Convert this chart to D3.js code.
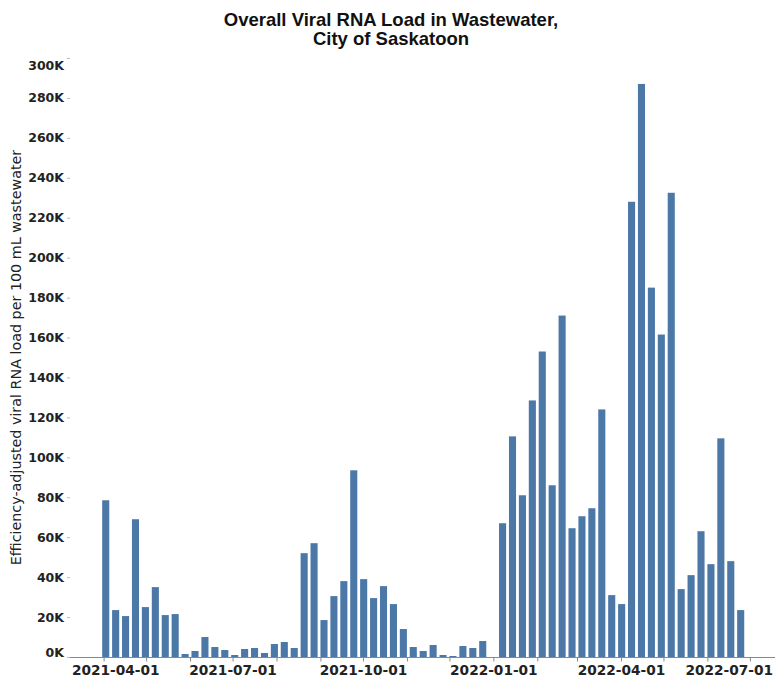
<!DOCTYPE html>
<html><head><meta charset="utf-8">
<script src="https://cdn.jsdelivr.net/npm/d3@7"></script>
<style>body{margin:0;background:#fff} svg{display:block}</style>
</head><body><svg id="c" width="780" height="684"></svg>
<script>
// ---- data ----
const weekStarts = [
 "2021-03-31","2021-04-07","2021-04-14","2021-04-21","2021-04-28","2021-05-05","2021-05-12","2021-05-19",
 "2021-05-26","2021-06-02","2021-06-09","2021-06-16","2021-06-23","2021-06-30","2021-07-07","2021-07-14",
 "2021-07-21","2021-07-28","2021-08-04","2021-08-11","2021-08-18","2021-08-25","2021-09-01","2021-09-08",
 "2021-09-15","2021-09-22","2021-09-29","2021-10-06","2021-10-13","2021-10-20","2021-10-27","2021-11-03",
 "2021-11-10","2021-11-17","2021-11-24","2021-12-01","2021-12-08","2021-12-15","2021-12-22",
 "2022-01-05","2022-01-12","2022-01-19","2022-01-26","2022-02-02","2022-02-09","2022-02-16","2022-02-23",
 "2022-03-02","2022-03-09","2022-03-16","2022-03-23","2022-03-30","2022-04-06","2022-04-13","2022-04-20",
 "2022-04-27","2022-05-04","2022-05-11","2022-05-18","2022-05-25","2022-06-01","2022-06-08","2022-06-15",
 "2022-06-22"
];
const viralLoad = [
 78500,23500,20500,69000,25000,35000,21000,21500,
 1500,3000,10000,5000,3500,1000,4000,4500,
 2000,6500,7500,4500,52000,57000,18500,30500,
 38000,93500,39000,29500,35500,26500,14000,5000,
 3000,6000,1000,500,5500,4500,8000,
 67000,110500,81000,128500,153000,86000,171000,64500,
 70500,74500,124000,31000,26500,228000,287000,185000,
 161500,232500,34000,41000,63000,46500,109500,48000,
 23500
];
const xDomain = ["2021-03-09","2022-07-18"];
const yDomain = [0, 300000];
const yTickValues = [0,20000,40000,60000,80000,100000,120000,140000,160000,180000,200000,220000,240000,260000,280000,300000];
const xLabelDates = ["2021-04-01","2021-07-01","2021-10-01","2022-01-01","2022-04-01","2022-07-01"];
const titleLines = ["Overall Viral RNA Load in Wastewater,", "City of Saskatoon"];
const yTitle = "Efficiency-adjusted viral RNA load per 100 mL wastewater";

// ---- chart ----
const parse = d3.utcParse("%Y-%m-%d");
const fmtDate = d3.utcFormat("%Y-%m-%d");
const data = weekStarts.map((d,i)=>({date: parse(d), value: viralLoad[i]}));
const svg = d3.select("#c");
const X0 = 71, X1 = 774, Y0 = 657, Y1 = 58;
const x = d3.scaleUtc().domain(xDomain.map(parse)).range([X0, X1]);
const y = d3.scaleLinear().domain(yDomain).range([Y0, Y1]);
const labelSet = new Set(xLabelDates);
const labelFont = "'DejaVu Sans', Verdana, sans-serif";

// bars
svg.append("g").selectAll("rect").data(data).join("rect")
  .attr("x", d => x(d.date))
  .attr("width", d => x(d3.utcDay.offset(d.date, 5)) - x(d.date))
  .attr("y", d => y(d.value))
  .attr("height", d => y(0) - y(d.value))
  .attr("fill", "#4c78a8");

// x axis
const xAxis = d3.axisBottom(x)
  .tickValues(x.ticks(d3.utcMonth.every(1)))
  .tickSize(4).tickPadding(4)
  .tickFormat(d => labelSet.has(fmtDate(d)) ? fmtDate(d) : "");
const gx = svg.append("g").attr("transform", `translate(0,${Y0+0.5})`).call(xAxis);
gx.select(".domain").attr("stroke", "#888").attr("d", `M${X0-1},0H${X1+1}`);
gx.selectAll(".tick line").attr("stroke", "#888");
gx.selectAll(".tick text").attr("font-family", labelFont).attr("font-size", 13.7)
  .attr("font-weight", "bold").attr("fill", "#222");
const xl = gx.selectAll(".tick text").filter(function(){ return this.textContent !== ""; });
const xlNodes = xl.nodes();
function tickX(node){ const t = d3.select(node.parentNode).attr("transform"); return +t.match(/translate\(([-\d.]+)/)[1]; }
// flush first / last labels with the range
d3.select(xlNodes[0]).attr("text-anchor", "start").attr("x", function(){ return X0 + 1 - tickX(this); });
d3.select(xlNodes[xlNodes.length-1]).attr("text-anchor", "end").attr("x", function(){ return X1 - 1 - tickX(this); });

// y axis
const yAxis = d3.axisLeft(y).tickValues(yTickValues).tickSize(3).tickPadding(3)
  .tickFormat(d => (d/1000) + "K");
const gy = svg.append("g").attr("transform", `translate(${X0-1},0)`).call(yAxis);
gy.select(".domain").remove();
gy.selectAll(".tick line").attr("stroke", "#bbb");
gy.selectAll(".tick text").attr("font-family", labelFont).attr("font-size", 12.5)
  .attr("font-weight", "bold").attr("fill", "#222");
gy.selectAll(".tick text").filter(d => d === yDomain[0]).attr("dy", "-0.05em");
gy.selectAll(".tick text").filter(d => d === yDomain[1]).attr("dy", "0.9em");

// y title
svg.append("text")
  .attr("transform", `translate(20.5,${(Y0+Y1)/2}) rotate(-90)`)
  .attr("text-anchor", "middle")
  .attr("font-family", labelFont).attr("font-size", 14.3).attr("fill", "#222")
  .text(yTitle);

// title
svg.append("g").selectAll("text").data(titleLines).join("text")
  .attr("x", 391).attr("y", (d,i) => 25.5 + i*19.5)
  .attr("text-anchor", "middle")
  .attr("font-family", "'Liberation Sans', Arial, sans-serif")
  .attr("font-size", 18.5).attr("font-weight", "bold").attr("fill", "#111")
  .text(d => d);
</script></body></html>
